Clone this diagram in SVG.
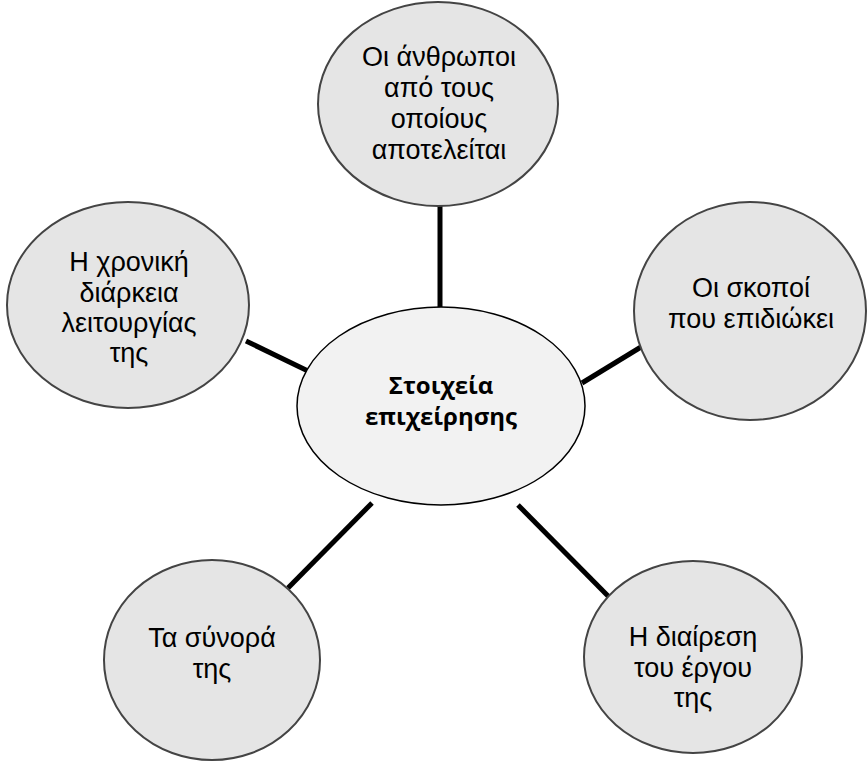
<svg xmlns="http://www.w3.org/2000/svg" width="867" height="766" viewBox="0 0 867 766">
<style>
.sat{fill:#e5e5e5;stroke:#444;stroke-width:2}
.ctr{fill:#f2f2f2;stroke:#000;stroke-width:1.5}
.t{font-family:"Liberation Sans",Arial,sans-serif;font-size:27px;fill:#000;text-anchor:middle}
.tb{font-family:"Open Sans","Liberation Sans",sans-serif;font-size:24px;font-weight:bold;fill:#000;text-anchor:middle}
.c line{stroke:#000;stroke-width:5}
</style>
<rect width="867" height="766" fill="#fff"/>
<g class="c" id="connectors">
<line x1="440" y1="205" x2="440" y2="308"/>
<line x1="246" y1="341" x2="308" y2="371"/>
<line x1="582" y1="383" x2="641" y2="347"/>
<line x1="288" y1="588" x2="372" y2="503"/>
<line x1="518" y1="505" x2="610" y2="598"/>
</g>
<g id="center">
<ellipse class="ctr" cx="441" cy="406" rx="144" ry="99"/>
<text class="tb" x="441" y="394">Στοιχεία</text>
<text class="tb" x="441" y="425">επιχείρησης</text>
</g>
<g id="n-top">
<ellipse class="sat" cx="438" cy="104" rx="120" ry="102"/>
<text class="t" x="439" y="66">Οι άνθρωποι</text>
<text class="t" x="439" y="97">από τους</text>
<text class="t" x="439" y="128">οποίους</text>
<text class="t" x="439" y="159">αποτελείται</text>
</g>
<g id="n-left">
<ellipse class="sat" cx="128" cy="305" rx="121" ry="103"/>
<text class="t" x="129" y="271">Η χρονική</text>
<text class="t" x="129" y="302">διάρκεια</text>
<text class="t" x="129" y="332">λειτουργίας</text>
<text class="t" x="129" y="362">της</text>
</g>
<g id="n-right">
<ellipse class="sat" cx="750" cy="311" rx="116" ry="109"/>
<text class="t" x="751" y="297">Οι σκοποί</text>
<text class="t" x="751" y="328">που επιδιώκει</text>
</g>
<g id="n-bl">
<ellipse class="sat" cx="212" cy="660" rx="108" ry="100"/>
<text class="t" x="212" y="647">Τα σύνορά</text>
<text class="t" x="212" y="678">της</text>
</g>
<g id="n-br">
<ellipse class="sat" cx="693" cy="657" rx="109" ry="96"/>
<text class="t" x="693" y="646">Η διαίρεση</text>
<text class="t" x="693" y="677">του έργου</text>
<text class="t" x="693" y="707">της</text>
</g>
</svg>
